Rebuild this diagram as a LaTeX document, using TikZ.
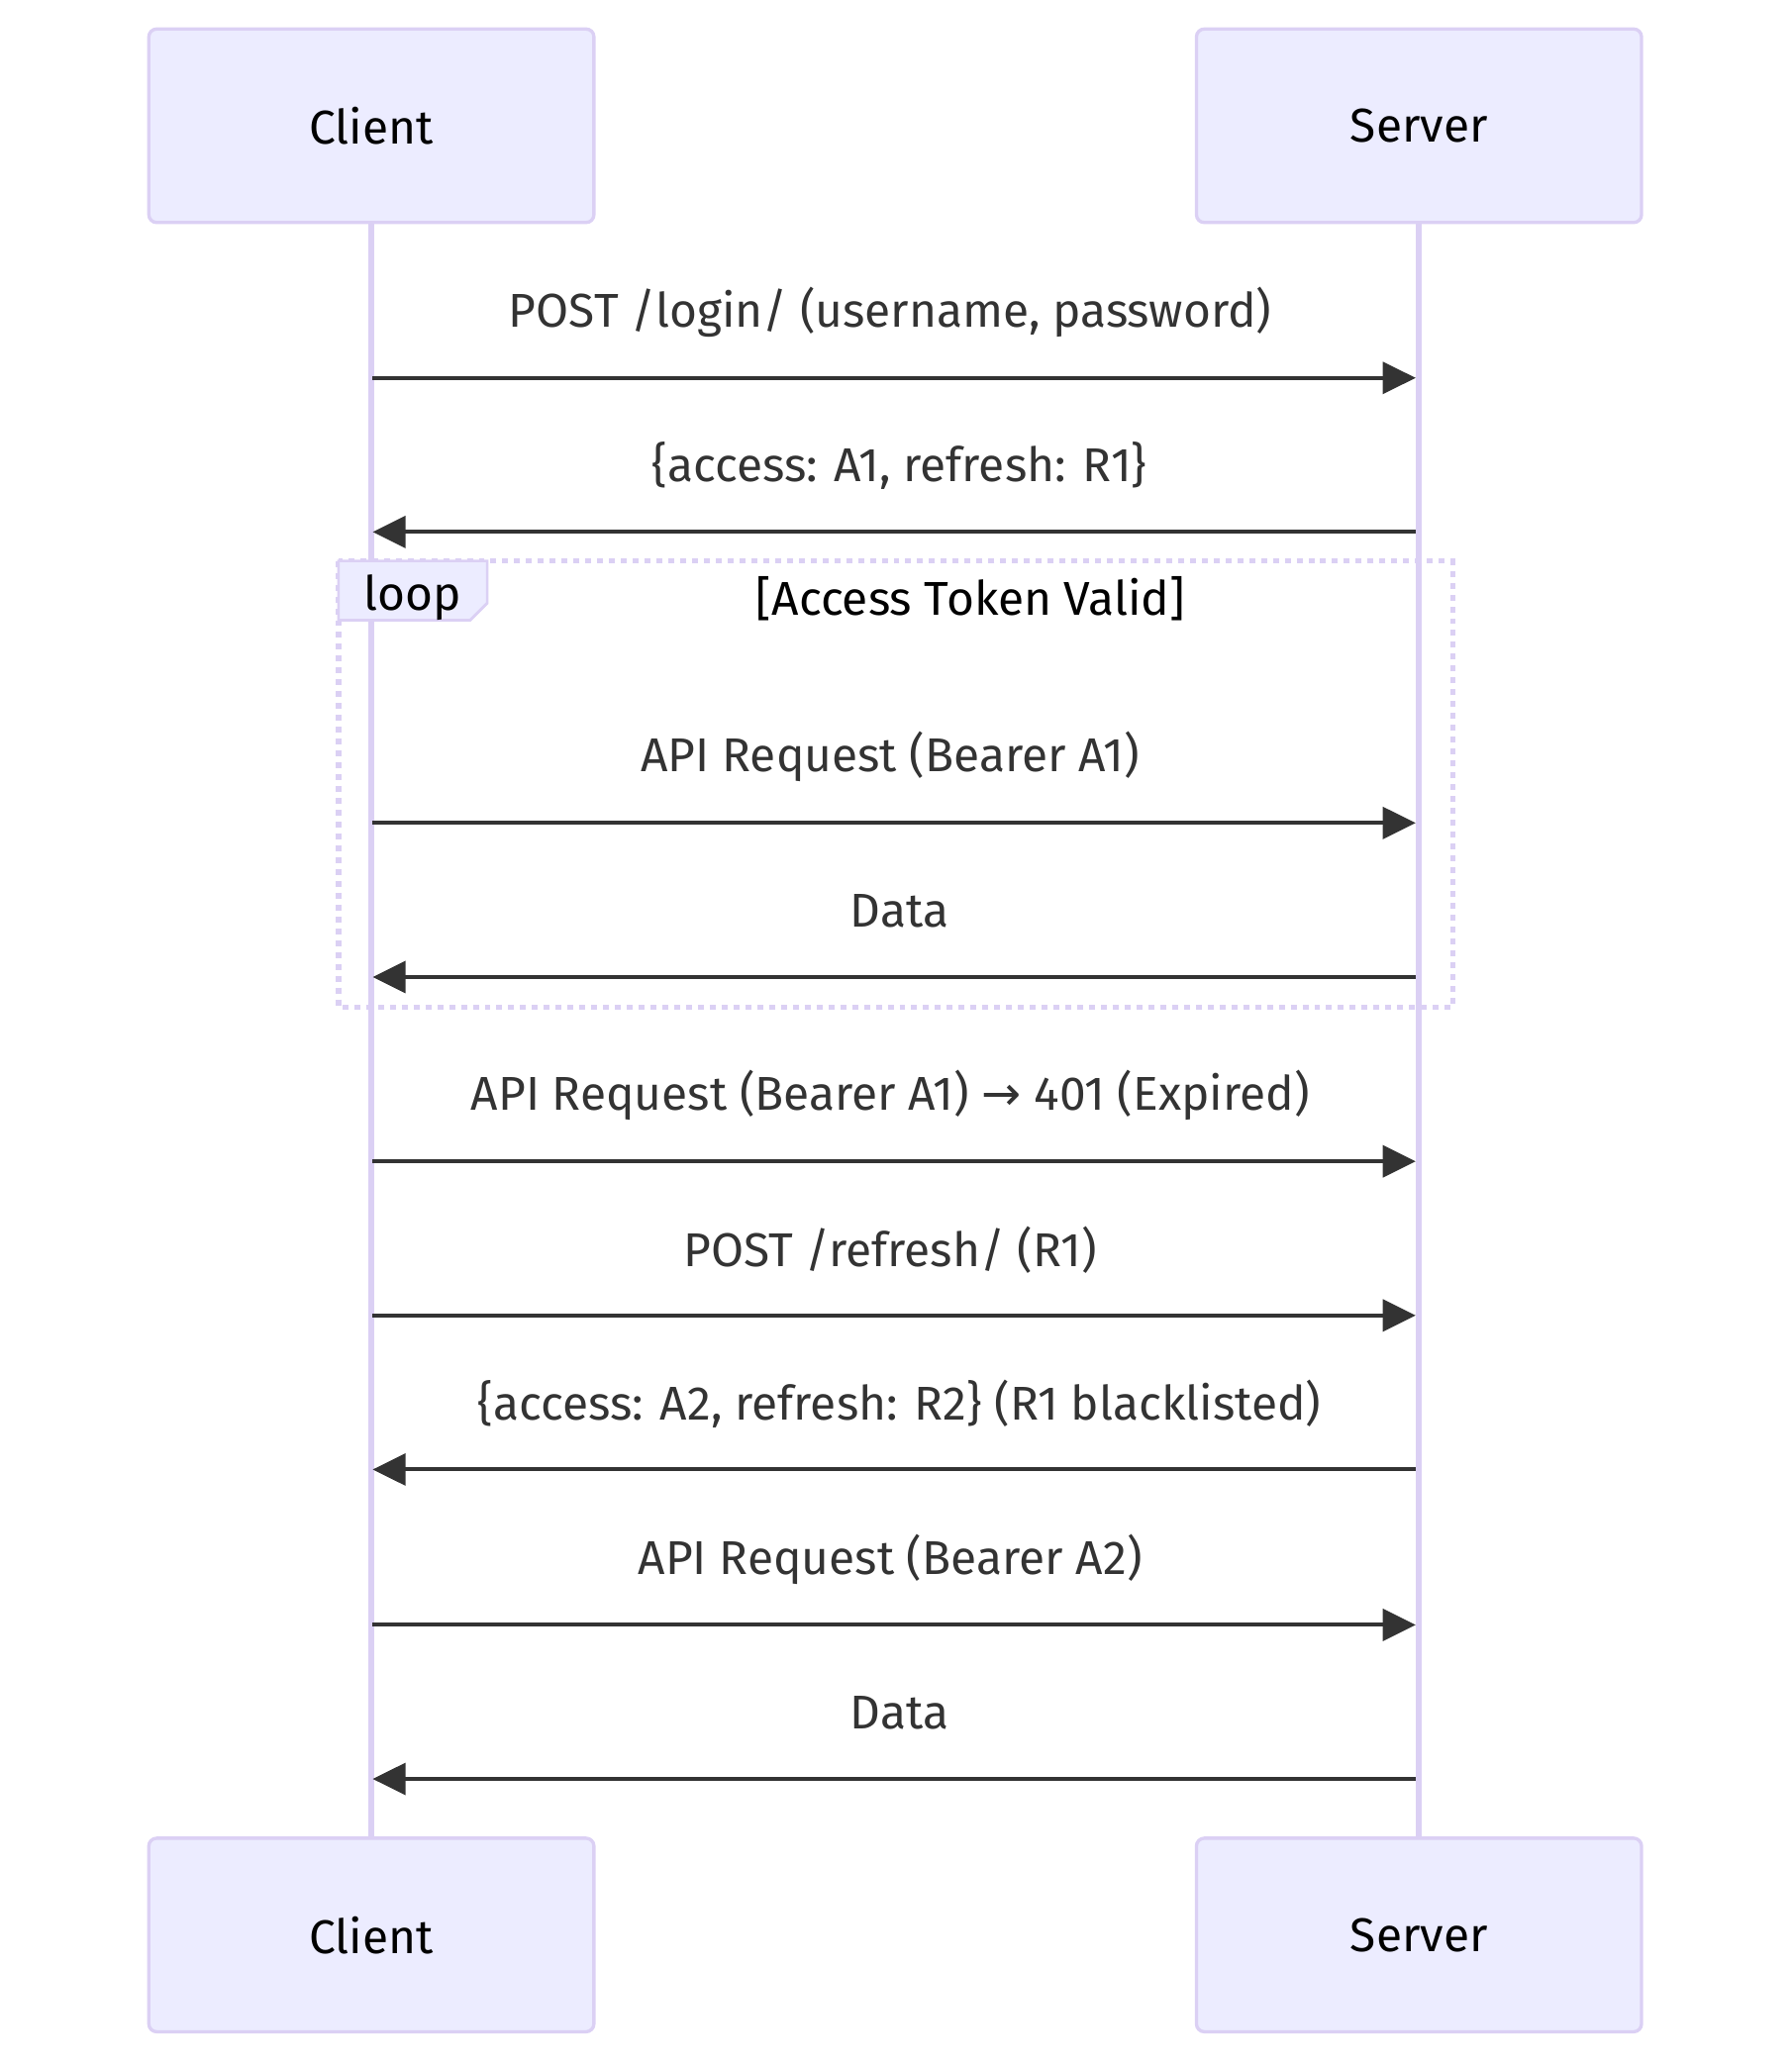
\documentclass[tikz,border=0pt]{standalone}
\usepackage{fontspec}
\setmainfont{Fira Sans}
\newfontfamily\arrowfont{DejaVu Sans}
\usetikzlibrary{arrows.meta}
\definecolor{actfill}{HTML}{ECECFF}
\definecolor{actline}{HTML}{DBD0F4}
\definecolor{msg}{HTML}{333333}
\tikzset{
  txt/.style={font=\fontsize{36}{43}\selectfont, inner sep=0pt},
  actor/.style={txt, draw=actline, fill=actfill, line width=2.5pt, rounded corners=6pt, minimum width=338pt, minimum height=147pt, text=black},
  life/.style={draw=actline, line width=4.5pt},
  msgarrow/.style={draw=msg, line width=3pt, -{Triangle[length=25pt,width=24pt]}},
  msglabel/.style={txt, text=msg},
}
\begin{document}
\begin{tikzpicture}[x=1pt,y=-1pt]
\useasboundingbox (0,0) rectangle (1360,1567.5);
% actors
\node[actor] (ct) at (282,95.5) {Client};
\node[actor] (st) at (1077.5,95.5) {Server};
\node[actor] (cb) at (282,1469.5) {Client};
\node[actor] (sb) at (1077.5,1469.5) {Server};
% lifelines
\draw[life] (ct.south) -- (cb.north);
\draw[life] (st.south) -- (sb.north);
% loop
\draw[actline, line width=4pt, dash pattern=on 4.5pt off 4.5pt] (257,426) rectangle (1103,765);
\draw[actline, line width=2pt, fill=actfill] (257,426) -- (370,426) -- (370,458) -- (357,471) -- (257,471) -- cycle;
\node[txt, text=black] (lp) at (313.5,454) {loop};
\node[txt, text=black] (lc) at (737,455) {[Access Token Valid]};
% coordinates on lifelines
\foreach \n/\y in {1/287,2/404,3/625,4/742,5/882,6/999,7/1116,8/1234,9/1351}{
  \coordinate (c\n) at (283,\y);
  \coordinate (s\n) at (1075,\y);
}
% messages
\draw[msgarrow] (c1) -- (s1);
\node[msglabel] (m1) at (676,237) {POST /login/ (username, password)};
\draw[msgarrow] (s2) -- (c2);
\node[msglabel] (m2) at (683,354) {\{access: A1, refresh: R1\}};
\draw[msgarrow] (c3) -- (s3);
\node[msglabel] (m3) at (676,575) {API Request (Bearer A1)};
\draw[msgarrow] (s4) -- (c4);
\node[msglabel] (m4) at (683,692) {Data};
\draw[msgarrow] (c5) -- (s5);
\node[msglabel] (m5) at (676,832) {API Request (Bearer A1) {\arrowfont →} 401 (Expired)};
\draw[msgarrow] (c6) -- (s6);
\node[msglabel] (m6) at (676,949) {POST /refresh/ (R1)};
\draw[msgarrow] (s7) -- (c7);
\node[msglabel] (m7) at (683,1066) {\{access: A2, refresh: R2\} (R1 blacklisted)};
\draw[msgarrow] (c8) -- (s8);
\node[msglabel] (m8) at (676,1184) {API Request (Bearer A2)};
\draw[msgarrow] (s9) -- (c9);
\node[msglabel] (m9) at (683,1301) {Data};
\end{tikzpicture}
\end{document}
